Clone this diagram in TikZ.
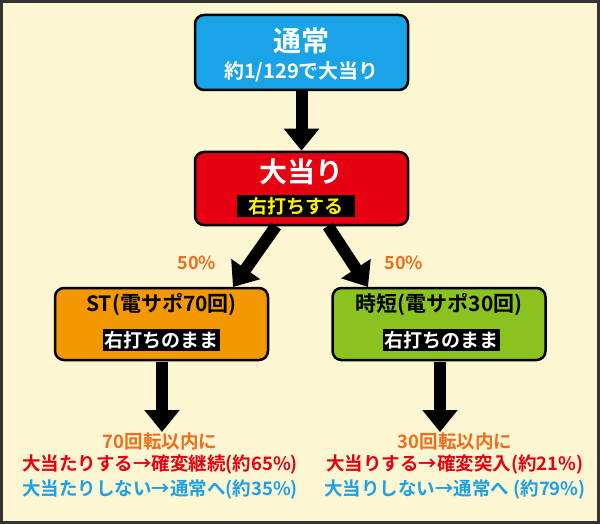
\documentclass[tikz,border=0pt]{standalone}
\usepackage{fontspec}
\setmainfont{Noto Sans CJK JP}[BoldFont={Noto Sans CJK JP Bold}]
\usetikzlibrary{arrows.meta}
\definecolor{bg}{HTML}{FDF6D2}
\definecolor{cblue}{HTML}{1AA3E6}
\definecolor{cred}{HTML}{E50012}
\definecolor{corange}{HTML}{F39800}
\definecolor{cgreen}{HTML}{8CC21F}
\definecolor{tblue}{HTML}{1EA0E6}
\definecolor{tred}{HTML}{E60012}
\definecolor{torange}{HTML}{EE6E1E}
\definecolor{tyellow}{HTML}{FFF100}
\begin{document}
\begin{tikzpicture}[x=1pt,y=-1pt,
  box/.style={draw=black,line width=2.5pt,rounded corners=9pt,minimum width=213pt,inner sep=0pt},
  lab/.style={fill=black,inner sep=1.5pt,minimum height=22pt,font=\bfseries\fontsize{19}{21}\selectfont},
  arr/.style={line width=12pt,-{Triangle[length=22pt,width=34pt]}},
  txt/.style={font=\bfseries\fontsize{18.5}{21}\selectfont,align=center}]
\useasboundingbox (0,0) rectangle (600,524);
\fill[bg] (0,0) rectangle (600,524);
\draw[line width=3pt,black!80] (1.5,1.5) rectangle (598.5,522.5);
\node[box,fill=cblue,minimum height=75pt] (top) at (301.5,52.5) {};
\node[text=white,font=\bfseries\fontsize{28}{30}\selectfont] at (301.5,41) {通常};
\node[text=white,font=\bfseries\fontsize{20}{22}\selectfont] at (301.5,72) {約1/129で大当り};
\node[box,fill=cred,minimum height=73pt] (hit) at (301.5,188.5) {};
\node[text=white,font=\bfseries\fontsize{28}{30}\selectfont] at (301.5,172) {大当り};
\node[lab,text=tyellow,minimum width=118pt] at (296,206) {右打ちする};
\node[box,fill=corange,minimum height=72pt] (st) at (161.5,324) {};
\node[font=\bfseries\fontsize{21}{23}\selectfont] at (161.5,305) {ST(電サポ70回)};
\node[lab,text=white] at (161.5,340) {右打ちのまま};
\node[box,fill=cgreen,minimum height=72pt] (jt) at (439,324) {};
\node[font=\bfseries\fontsize{21}{23}\selectfont] at (439,305) {時短(電サポ30回)};
\node[lab,text=white] at (441,340) {右打ちのまま};
\coordinate (s1) at (162,362); \coordinate (e1) at (162,432);
\coordinate (s2) at (440,362); \coordinate (e2) at (440,432);
\draw[arr] (top.south) -- (hit.north);
\draw[arr] (276,226) -- (233,287);
\draw[arr] (328,226) -- (368,287);
\draw[arr] (s1) -- (e1);
\draw[arr] (s2) -- (e2);
\node[text=torange,font=\bfseries\fontsize{18}{20}\selectfont] at (197,263) {50\%};
\node[text=torange,font=\bfseries\fontsize{18}{20}\selectfont] at (404,263) {50\%};
\node[txt,text=torange] at (160,441) {70回転以内に};
\node[txt,text=tred] at (160,465) {大当たりする→確変継続(約65\%)};
\node[txt,text=tblue] at (160,490) {大当たりしない→通常へ(約35\%)};
\node[txt,text=torange] at (455,441) {30回転以内に};
\node[txt,text=tred] at (455,465) {大当りする→確変突入(約21\%)};
\node[txt,text=tblue] at (455,490) {大当りしない→通常へ (約79\%)};
\end{tikzpicture}
\end{document}
